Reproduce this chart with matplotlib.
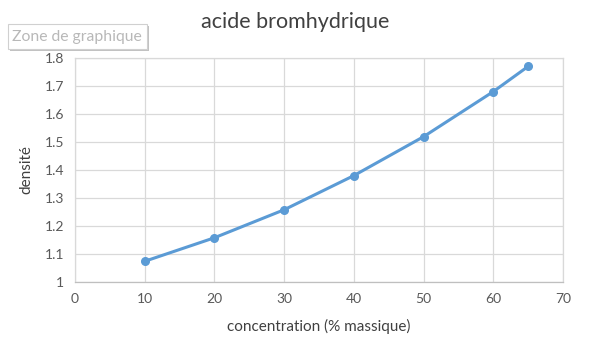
import matplotlib
matplotlib.use("Agg")
import matplotlib.pyplot as plt
from matplotlib.patches import FancyBboxPatch

concentration = [10, 20, 30, 40, 50, 60, 65]
densite = [1.074, 1.158, 1.258, 1.38, 1.519, 1.68, 1.77]
x_ticks = [0, 10, 20, 30, 40, 50, 60, 70]
y_ticks = [1, 1.1, 1.2, 1.3, 1.4, 1.5, 1.6, 1.7, 1.8]
y_ticklabels = ["1", "1.1", "1.2", "1.3", "1.4", "1.5", "1.6", "1.7", "1.8"]

plt.rcParams['font.family'] = ['Lato', 'DejaVu Sans']

W, H = 590, 344
fig = plt.figure(figsize=(W / 100, H / 100), dpi=100)
ax = fig.add_axes([75 / W, 1 - 282 / H, (563 - 75) / W, (282 - 58) / H])

ax.plot(concentration, densite, color='#5b9bd5', lw=2.2, marker='o', ms=5.5,
        solid_joinstyle='round', solid_capstyle='round', zorder=3)

ax.set_xlim(0, 70)
ax.set_ylim(1, 1.8)
ax.set_xticks(x_ticks)
ax.set_yticks(y_ticks)
ax.set_yticklabels(y_ticklabels)
ax.grid(True, color='#d9d9d9', lw=0.9)
ax.set_axisbelow(True)
for s in ax.spines.values():
    s.set_color('#d9d9d9')
    s.set_linewidth(0.9)
ax.spines['bottom'].set_color('#bfbfbf')
ax.tick_params(length=0, labelsize=10, colors='#595959', pad=8)

ax.set_xlabel('concentration (% massique)', fontsize=11, color='#404040', labelpad=10)
ax.set_ylabel('densité', fontsize=11, color='#404040', labelpad=8)

fig.text(0.5, 1 - 22 / H, 'acide bromhydrique', ha='center', va='center',
         fontsize=15.5, color='#404040')

# tooltip box
shadow = FancyBboxPatch((10 / W, 1 - 51 / H), 139 / W, 25 / H,
                        boxstyle='square,pad=0', transform=fig.transFigure,
                        facecolor='#a8a8a8', edgecolor='none', alpha=0.7, zorder=5)
fig.add_artist(shadow)
box = FancyBboxPatch((8 / W, 1 - 49 / H), 139 / W, 25 / H,
                     boxstyle='square,pad=0', transform=fig.transFigure,
                     facecolor='white', edgecolor='#d0d0d0', lw=0.8, zorder=6)
fig.add_artist(box)
fig.text(77 / W, 1 - 37 / H, 'Zone de graphique', ha='center', va='center',
         fontsize=11.3, color='#b8b8b8', zorder=7)

fig.savefig('out.png', dpi=100)
